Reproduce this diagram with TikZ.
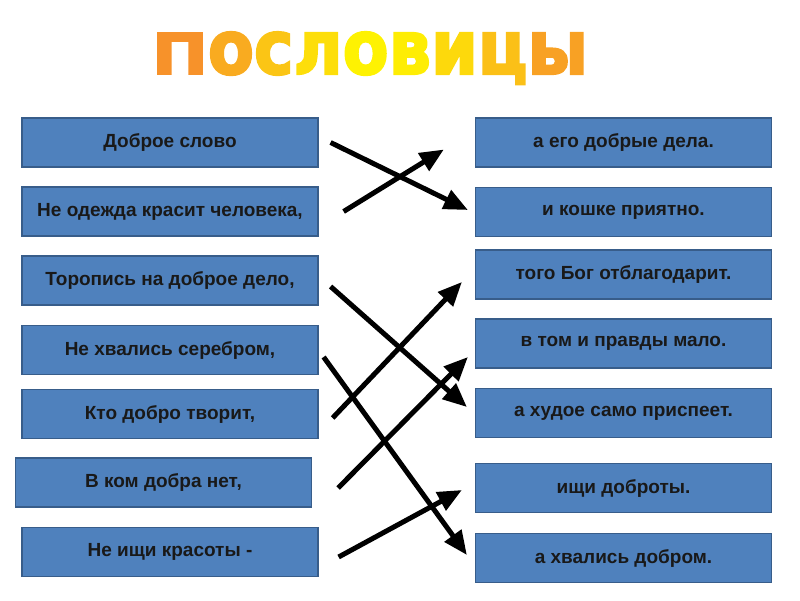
\documentclass[tikz,border=0pt]{standalone}
\usepackage{fontspec}
\setmainfont{Liberation Sans}
\newfontfamily\titlefont[BoldFeatures={FakeBold=3}]{DejaVu Sans}
\usepackage{graphicx}
\usepackage{xcolor}
\usetikzlibrary{arrows.meta}

\definecolor{boxblue}{HTML}{4F81BD}
\definecolor{boxedge}{HTML}{385D8A}
\definecolor{ttlorange}{HTML}{F7922A}
\definecolor{ttlyellow}{HTML}{FFF700}

% one letter of the title, shaded between orange and yellow
\newcommand{\ttlchar}[2]{{\color{ttlyellow!#1!ttlorange}#2}}

\begin{document}
\begin{tikzpicture}[
    x=1pt, y=-1pt,
    every node/.style={font=\fontsize{19}{22}\selectfont\bfseries},
    pbox/.style={rectangle, draw=boxedge, line width=1.2pt, fill=boxblue, minimum width=296pt, minimum height=49pt, inner sep=0pt, align=center, text=black!90},
    match/.style={-{Triangle[length=24pt, width=20pt]}, line width=5pt, black},
]
\useasboundingbox (0,0) rectangle (800,600);

% Title
\node[anchor=base] (title) at (370,74) {\resizebox{436pt}{42pt}{\titlefont\bfseries
  \ttlchar{0}{\scalebox{1}[0.75]{П}}\ttlchar{25}{о}\ttlchar{50}{с}\ttlchar{75}{л}\ttlchar{95}{о}\ttlchar{90}{в}\ttlchar{70}{и}\ttlchar{45}{ц}\ttlchar{15}{ы}}};

% Left column
\node[pbox] (l1) at (170,142.5) {Доброе слово};
\node[pbox] (l2) at (170,211.5) {Не одежда красит человека,};
\node[pbox] (l3) at (170,280.5) {Торопись на доброе дело,};
\node[pbox] (l4) at (170,350) {Не хвались серебром,};
\node[pbox] (l5) at (170,414) {Кто добро творит,};
\node[pbox] (l6) at (163.5,482.5) {В ком добра нет,};
\node[pbox] (l7) at (170,552) {Не ищи красоты -};

% Right column
\node[pbox] (r1) at (623.5,142.5) {а его добрые дела.};
\node[pbox] (r2) at (623.5,212) {и кошке приятно.};
\node[pbox] (r3) at (623.5,274.5) {того Бог отблагодарит.};
\node[pbox] (r4) at (623.5,343.5) {в том и правды мало.};
\node[pbox] (r5) at (623.5,413) {а худое само приспеет.};
\node[pbox] (r6) at (623.5,488) {ищи доброты.};
\node[pbox] (r7) at (623.5,558) {а хвались добром.};

% Matching arrows
\draw[match] ([shift={(12,0)}]l1.east) -- ([shift={(-7,-2)}]r2.west);
\draw[match] ([shift={(25,0)}]l2.east) -- ([shift={(-31,7)}]r1.west);
\draw[match] ([shift={(12,6)}]l3.east) -- ([shift={(-8,-6)}]r5.west);
\draw[match] ([shift={(5,7)}]l4.east) -- ([shift={(-8,-3)}]r7.west);
\draw[match] ([shift={(14,4)}]l5.east) -- ([shift={(-13,7.5)}]r3.west);
\draw[match] ([shift={(26,5.5)}]l6.east) -- ([shift={(-7,13.5)}]r4.west);
\draw[match] ([shift={(20,5)}]l7.east) -- ([shift={(-13,2)}]r6.west);

\end{tikzpicture}
\end{document}
